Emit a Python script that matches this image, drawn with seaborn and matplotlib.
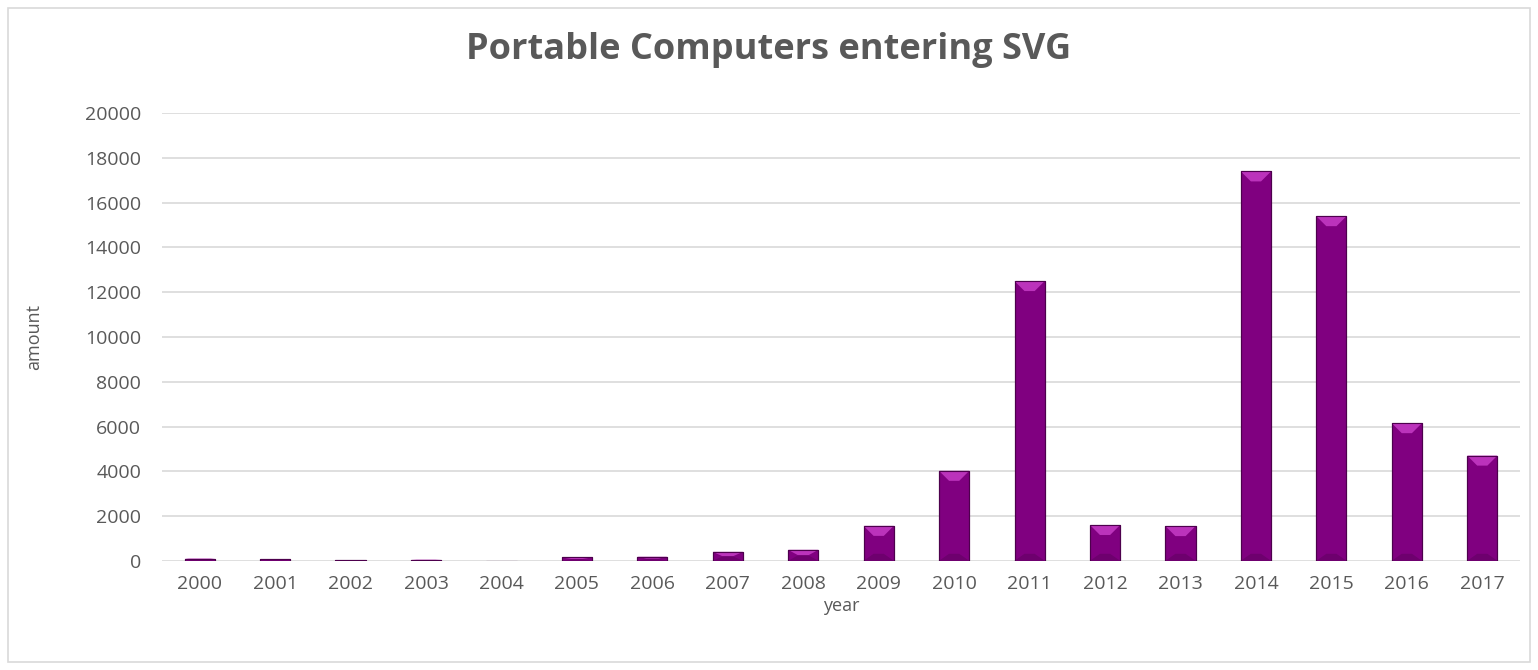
import matplotlib
matplotlib.use("Agg")
import matplotlib.pyplot as plt
import seaborn as sns
import pandas as pd
from matplotlib.patches import Rectangle, Polygon

years = ["2000", "2001", "2002", "2003", "2004", "2005", "2006", "2007", "2008",
         "2009", "2010", "2011", "2012", "2013", "2014", "2015", "2016", "2017"]
amounts = [100, 60, 30, 50, 0, 150, 180, 400, 490,
           1560, 4020, 12500, 1600, 1550, 17400, 15400, 6150, 4700]
yticks = [0, 2000, 4000, 6000, 8000, 10000, 12000, 14000, 16000, 18000, 20000]

df = pd.DataFrame({"year": years, "amount": amounts})

sns.set_theme(style="white")
plt.rcParams["font.family"] = ["Open Sans", "DejaVu Sans"]

fig = plt.figure(figsize=(15.38, 6.7), dpi=100)
ax = fig.add_axes([0.1053, 0.163, 0.883, 0.668])

sns.barplot(data=df, x="year", y="amount", color="#800080", width=0.4,
            saturation=1, ax=ax, edgecolor="#4d004d", linewidth=0.8, zorder=3)

ax.set_ylim(0, 20000)
ax.set_yticks(yticks)
ax.set_yticklabels([str(t) for t in yticks])
ax.grid(axis="y", color="#d9d9d9", linewidth=1.2, zorder=0)
ax.set_axisbelow(True)
for s in ax.spines.values():
    s.set_visible(False)
ax.tick_params(axis="y", length=0, labelsize=14, colors="#595959", pad=15)
ax.tick_params(axis="x", length=0, labelsize=14, colors="#595959", pad=10)
ax.set_xlabel("year", fontsize=13, color="#595959", labelpad=3)
ax.set_ylabel("amount", fontsize=13, color="#595959", labelpad=30)
fig.text(0.5, 0.925, "Portable Computers entering SVG", fontsize=26,
         fontweight="bold", color="#595959", ha="center", va="center")

# bevel highlights derived from the bar patches
fig.canvas.draw()
inv = ax.transData.inverted()
for p in ax.patches:
    h = p.get_height()
    if h <= 0:
        continue
    x0 = p.get_x()
    w = p.get_width()
    (dx0, dy0) = ax.transData.transform((x0, 0))
    (dx1, dy1) = ax.transData.transform((x0 + w, h))
    depth = min(10.0, (dy1 - dy0) / 2.0)
    inset = min(10.0, (dx1 - dx0) / 2.0 - 1)
    tl = inv.transform((dx0, dy1))
    tr = inv.transform((dx1, dy1))
    br_ = inv.transform((dx1 - inset, dy1 - depth))
    bl_ = inv.transform((dx0 + inset, dy1 - depth))
    ax.add_patch(Polygon([tl, tr, br_, bl_], closed=True, facecolor="#bb33bb",
                         edgecolor="none", zorder=4))
    bdepth = min(7.0, (dy1 - dy0) / 2.0)
    b0 = inv.transform((dx0, dy0))
    b1 = inv.transform((dx1, dy0))
    b2 = inv.transform((dx1 - inset, dy0 + bdepth))
    b3 = inv.transform((dx0 + inset, dy0 + bdepth))
    ax.add_patch(Polygon([b0, b1, b2, b3], closed=True, facecolor="#6e006e",
                         edgecolor="none", zorder=4))
    ax.add_patch(Rectangle((x0, 0), w, h, fill=False, edgecolor="#4d004d",
                           linewidth=0.8, zorder=5))

# outer border
fig.patches.append(Rectangle((0.005, 0.012), 0.990, 0.976, transform=fig.transFigure,
                             fill=False, edgecolor="#d9d9d9", linewidth=1.2))

fig.savefig("out.png", dpi=100)
